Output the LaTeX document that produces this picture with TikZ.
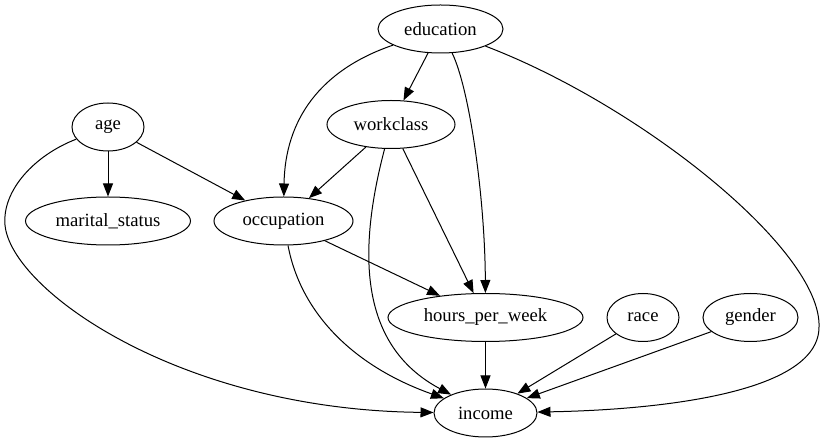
\documentclass[tikz,border=0pt]{standalone}
\usepackage{fontspec}
\setmainfont{Liberation Serif}
\newfontfamily\gvfont{Liberation Serif}
\usetikzlibrary{shapes.geometric,arrows.meta}
\begin{document}
\begin{tikzpicture}[x=1pt,y=-1pt,
  var/.style={ellipse, draw, line width=1pt, minimum height=48pt, inner sep=0pt,
              font=\gvfont\fontsize{18.67}{22}\selectfont},
  edge/.style={line width=1pt, -{Triangle[length=13pt,width=10pt]}}]
\fill[white] (0,0) rectangle (825,443);
\useasboundingbox (0,0) rectangle (825,443);

% variables
\node[var, minimum width=125pt] (education)      at (440.5,29)  {education};
\node[var, minimum width=72pt]  (age)            at (108,127)   {age};
\node[var, minimum width=128pt] (workclass)      at (391,124.5) {workclass};
\node[var, minimum width=165pt] (marital_status) at (108,221)   {marital\_status};
\node[var, minimum width=139pt] (occupation)     at (283.5,221) {occupation};
\node[var, minimum width=195pt] (hours_per_week) at (485.5,317.5) {hours\_per\_week};
\node[var, minimum width=72pt]  (race)           at (643,317.5) {race};
\node[var, minimum width=95pt]  (gender)         at (750.5,317.5) {gender};
\node[var, minimum width=103pt] (income)         at (485.5,413) {income};

% bend points of the long curved edges
\coordinate (age_bend) at (5,225);
\coordinate (edu_bend) at (819,327);

% edges
\draw[edge] (education) -- (workclass);
\draw[edge] (education) .. controls (320,70) and (285,120) .. (occupation);
\draw[edge] (education) .. controls (470,90) and (485,200) .. (hours_per_week);
\draw[edge] (education) .. controls (640,105) and (822,250) .. (edu_bend)
                        .. controls (819,395) and (650,410) .. (income);

\draw[edge] (age) -- (marital_status);
\draw[edge] (age) -- (occupation);
\draw[edge] (age) .. controls (35,155) and (2,190) .. (age_bend)
                  .. controls (11,290) and (180,410) .. (income);

\draw[edge] (workclass) -- (occupation);
\draw[edge] (workclass) -- (hours_per_week);
\draw[edge] (workclass) .. controls (358,250) and (358,345) .. (income);

\draw[edge] (occupation) -- (hours_per_week);
\draw[edge] (occupation) .. controls (300,310) and (350,365) .. (income);

\draw[edge] (hours_per_week) -- (income);
\draw[edge] (race) -- (income);
\draw[edge] (gender) -- (income);
\end{tikzpicture}
\end{document}
